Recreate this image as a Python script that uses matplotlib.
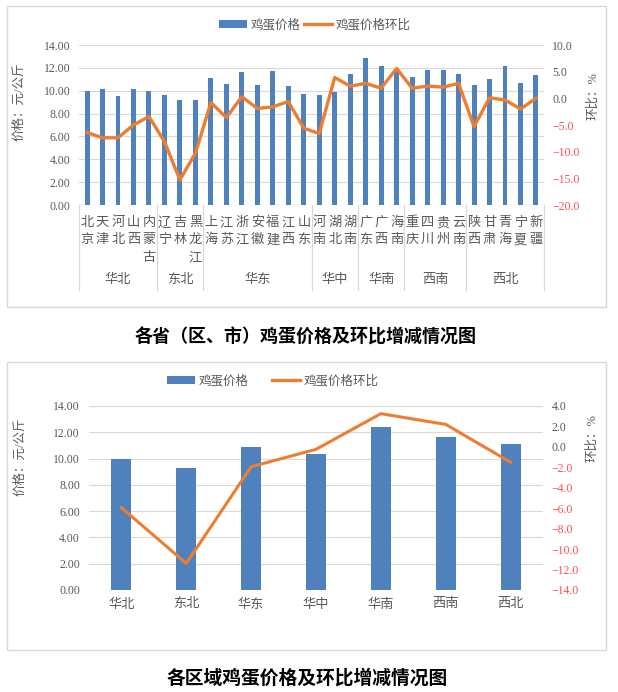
"""Egg price by province / region, with month-on-month change. Writes out.png."""

import matplotlib

matplotlib.use("Agg")
import matplotlib.pyplot as plt
from matplotlib.lines import Line2D
from matplotlib.patches import Patch, Rectangle
from matplotlib.transforms import blended_transform_factory

W, H = 618, 692

# ---------- data ----------
provinces = [
    "北京", "天津", "河北", "山西", "内蒙古",
    "辽宁", "吉林", "黑龙江",
    "上海", "江苏", "浙江", "安徽", "福建", "江西", "山东",
    "河南", "湖北", "湖南",
    "广东", "广西", "海南",
    "重庆", "四川", "贵州", "云南",
    "陕西", "甘肃", "青海", "宁夏", "新疆",
]
groups = ["华北", "东北", "华东", "华中", "华南", "西南", "西北"]
group_sizes = [5, 3, 7, 3, 3, 4, 5]
prov_price = [
    9.97, 10.12, 9.56, 10.12, 9.97,
    9.65, 9.19, 9.19,
    11.08, 10.62, 11.64, 10.50, 11.72, 10.41, 9.74,
    9.65, 9.86, 11.46,
    12.86, 12.13, 11.90,
    11.17, 11.81, 11.81, 11.46,
    10.50, 11.00, 12.13, 10.70, 11.35,
]
prov_mom = [
    -6.4, -7.4, -7.4, -5.0, -3.4,
    -8.1, -15.3, -10.3,
    -0.8, -3.6, 0.3, -1.9, -1.6, -0.6, -5.6,
    -6.6, 3.9, 2.3,
    2.8, 1.9, 5.6,
    1.9, 2.3, 2.1, 2.8,
    -5.3, 0.1, -0.3, -2.0, 0.0,
]
regions = ["华北", "东北", "华东", "华中", "华南", "西南", "西北"]
region_price = [9.97, 9.31, 10.88, 10.33, 12.38, 11.62, 11.13]
region_mom = [-5.95, -11.4, -1.94, -0.24, 3.25, 2.2, -1.5]

# ---------- style ----------
BLUE = "#4f81bd"
ORANGE = "#ed7d31"
GRID = "#d9d9d9"
TXT = "#595959"
RED = "#ff4f4f"
FONT = ["Liberation Serif", "Noto Sans CJK SC", "DejaVu Sans"]
plt.rcParams["font.family"] = FONT


def fx(px):
    return px / W


def fy(py):
    return 1 - py / H


def px_axes(fig, left, top, right, bottom):
    return fig.add_axes([fx(left), fy(bottom), (right - left) / W, (bottom - top) / H])


def style_axes(ax, ax2, yticks, fmt, y2ticks, fmt2):
    ax.set_ylim(yticks[0], yticks[-1])
    ax.set_yticks(yticks)
    ax.set_yticklabels([fmt.format(v) for v in yticks])
    ax2.set_ylim(y2ticks[0], y2ticks[-1])
    ax2.set_yticks(y2ticks)
    ax2.set_yticklabels([fmt2.format(v).replace("-", "\u2212") for v in y2ticks])
    for lbl, v in zip(ax2.get_yticklabels(), y2ticks):
        lbl.set_color(RED if v < 0 else TXT)
    ax.grid(axis="y", color=GRID, linewidth=0.8)
    ax.set_axisbelow(True)
    for a in (ax, ax2):
        for s in a.spines.values():
            s.set_visible(False)
    ax.tick_params(axis="y", length=0, pad=6.5, labelsize=8.5, labelcolor=TXT)
    ax2.tick_params(axis="y", length=0, pad=6, labelsize=8.5)
    ax.tick_params(axis="x", length=0)


def legend(fig, x, y, colspace):
    handles = [
        Patch(facecolor=BLUE, edgecolor="none"),
        Line2D([], [], color=ORANGE, linewidth=2.4),
    ]
    fig.legend(
        handles, ["鸡蛋价格", "鸡蛋价格环比"],
        loc="center", bbox_to_anchor=(fx(x), fy(y)), ncol=2, frameon=False,
        fontsize=9, handlelength=2.2, handletextpad=0.3, columnspacing=colspace,
        labelcolor=TXT,
    )


fig = plt.figure(figsize=(W / 100, H / 100), dpi=100)

# boxes around both charts
for top, bottom in [(6, 307), (362, 650)]:
    fig.patches.append(Rectangle(
        (fx(7), fy(bottom)), (606 - 7) / W, (bottom - top) / H,
        transform=fig.transFigure, fill=False, edgecolor=GRID, linewidth=1,
    ))

# ---------- chart 1: provinces ----------
ax = px_axes(fig, 79.3, 45, 543.7, 205)
ax2 = ax.twinx()
xs = range(len(provinces))
ax.bar(xs, prov_price, width=0.32, color=BLUE)
ax2.plot(xs, prov_mom, color=ORANGE, linewidth=2.4, solid_joinstyle="round")
ax.set_xlim(-0.5, len(provinces) - 0.5)
style_axes(ax, ax2, [0, 2, 4, 6, 8, 10, 12, 14], "{:.2f}",
           [-20, -15, -10, -5, 0, 5, 10], "{:.1f}")
ax.set_xticks([])

# multi-level category labels: one char per row, then region name
tr = blended_transform_factory(ax.transData, fig.transFigure)
row_y = [223, 240, 258]
for i, name in enumerate(provinces):
    for j, ch in enumerate(name):
        fig.text(i, fy(row_y[j]), ch, transform=tr, ha="center", va="center",
                 fontsize=9.5, color=TXT)
start = 0
bounds = [-0.5]
for g, n in zip(groups, group_sizes):
    fig.text(start + (n - 1) / 2, fy(280), g, transform=tr, ha="center",
             va="center", fontsize=9.5, color=TXT)
    start += n
    bounds.append(start - 0.5)
for b in bounds:
    fig.add_artist(Line2D([b, b], [fy(205), fy(290)], transform=tr,
                          color=GRID, linewidth=0.9))

legend(fig, 315, 25, 0.3)
fig.text(fx(19), fy(102), "价格：元/公斤", rotation=90, ha="center", va="center",
         fontsize=9, color=TXT)
fig.text(fx(593), fy(96), "环比：%", rotation=90, ha="center", va="center",
         fontsize=9, color=TXT)
fig.text(fx(306), fy(337), "各省（区、市）鸡蛋价格及环比增减情况图", ha="center",
         va="center", fontsize=13, weight="bold", color="black",
         family=["Noto Sans CJK SC", "DejaVu Sans"])

# ---------- chart 2: regions ----------
bx = px_axes(fig, 89, 406, 543, 590)
bx2 = bx.twinx()
xr = range(len(regions))
bx.bar(xr, region_price, width=0.31, color=BLUE)
bx2.plot(xr, region_mom, color=ORANGE, linewidth=2.2, solid_joinstyle="round")
bx.set_xlim(-0.5, len(regions) - 0.5)
style_axes(bx, bx2, [0, 2, 4, 6, 8, 10, 12, 14], "{:.2f}",
           [-14, -12, -10, -8, -6, -4, -2, 0, 2, 4], "{:.1f}")
bx.set_xticks(list(xr))
bx.set_xticklabels(regions)
bx.tick_params(axis="x", pad=6, labelsize=9.5, labelcolor=TXT)

legend(fig, 273, 381, 1.9)
fig.text(fx(20), fy(457), "价格：元/公斤", rotation=90, ha="center", va="center",
         fontsize=9, color=TXT)
fig.text(fx(592), fy(438), "环比：%", rotation=90, ha="center", va="center",
         fontsize=9, color=TXT)
fig.text(fx(307), fy(678), "各区域鸡蛋价格及环比增减情况图", ha="center",
         va="center", fontsize=13.5, weight="bold", color="black",
         family=["Noto Sans CJK SC", "DejaVu Sans"])

fig.savefig("out.png", dpi=100)
